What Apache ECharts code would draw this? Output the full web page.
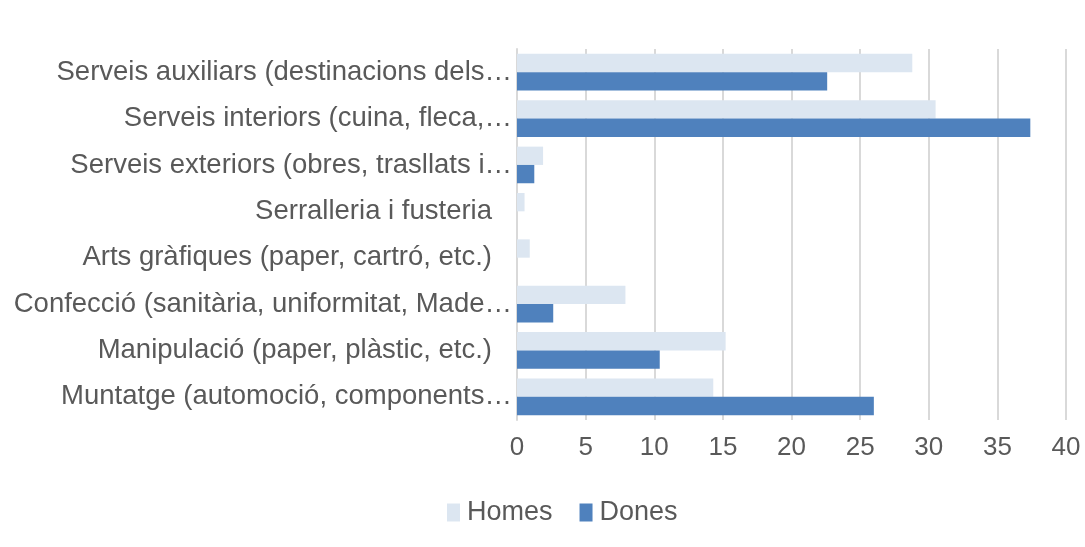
<!DOCTYPE html>
<html>
<head>
<meta charset="utf-8">
<script src="https://cdn.jsdelivr.net/npm/echarts@6/dist/echarts.min.js"></script>
<style>html,body{margin:0;padding:0;background:#fff}#c{width:1085px;height:547px}</style>
</head>
<body>
<div id="c"></div>
<script>
const categories = [
  "Serveis auxiliars (destinacions dels…",
  "Serveis interiors (cuina, fleca,…",
  "Serveis exteriors (obres, trasllats i…",
  "Serralleria i fusteria",
  "Arts gràfiques (paper, cartró, etc.)",
  "Confecció (sanitària, uniformitat, Made…",
  "Manipulació (paper, plàstic, etc.)",
  "Muntatge (automoció, components…"
];
const homes = [28.8, 30.5, 1.9, 0.55, 0.93, 7.9, 15.2, 14.3];
const dones = [22.6, 37.4, 1.26, 0, 0, 2.64, 10.4, 26.0];
const xTicks = [0, 5, 10, 15, 20, 25, 30, 35, 40];

const chart = echarts.init(document.getElementById('c'));
chart.setOption({
  animation: false,
  textStyle: { fontFamily: '"Liberation Sans", Arial, sans-serif' },
  grid: { left: 517, right: 19, top: 49, bottom: 127, containLabel: false },
  legend: {
    top: 494, left: 442, itemWidth: 13, itemHeight: 18, itemGap: 27,
    icon: 'rect',
    textStyle: { fontSize: 27, color: '#595959', padding: [0, 0, 0, 2] },
    data: ['Homes', 'Dones']
  },
  xAxis: {
    type: 'value', min: xTicks[0], max: xTicks[xTicks.length - 1], interval: 5,
    axisLine: { show: false }, axisTick: { show: false },
    splitLine: { lineStyle: { color: '#d9d9d9', width: 2 } },
    axisLabel: { fontSize: 26, color: '#595959', margin: 15 }
  },
  yAxis: {
    type: 'category', data: categories, inverse: true,
    axisLine: { show: true, lineStyle: { color: '#d9d9d9', width: 2 } },
    axisTick: { show: false },
    axisLabel: {
      fontSize: 27.5, color: '#595959', margin: 5,
      formatter: v => v.endsWith('…') ? v : '{p|' + v + '}',
      rich: { p: { fontSize: 27.5, color: '#595959', padding: [0, 20, 0, 0] } }
    }
  },
  series: [
    { name: 'Homes', type: 'bar', data: homes, barGap: '0%', barCategoryGap: '21%',
      itemStyle: { color: '#dce6f1' } },
    { name: 'Dones', type: 'bar', data: dones, barGap: '0%', barCategoryGap: '21%',
      itemStyle: { color: '#4f81bd' } }
  ]
});
</script>
</body>
</html>
